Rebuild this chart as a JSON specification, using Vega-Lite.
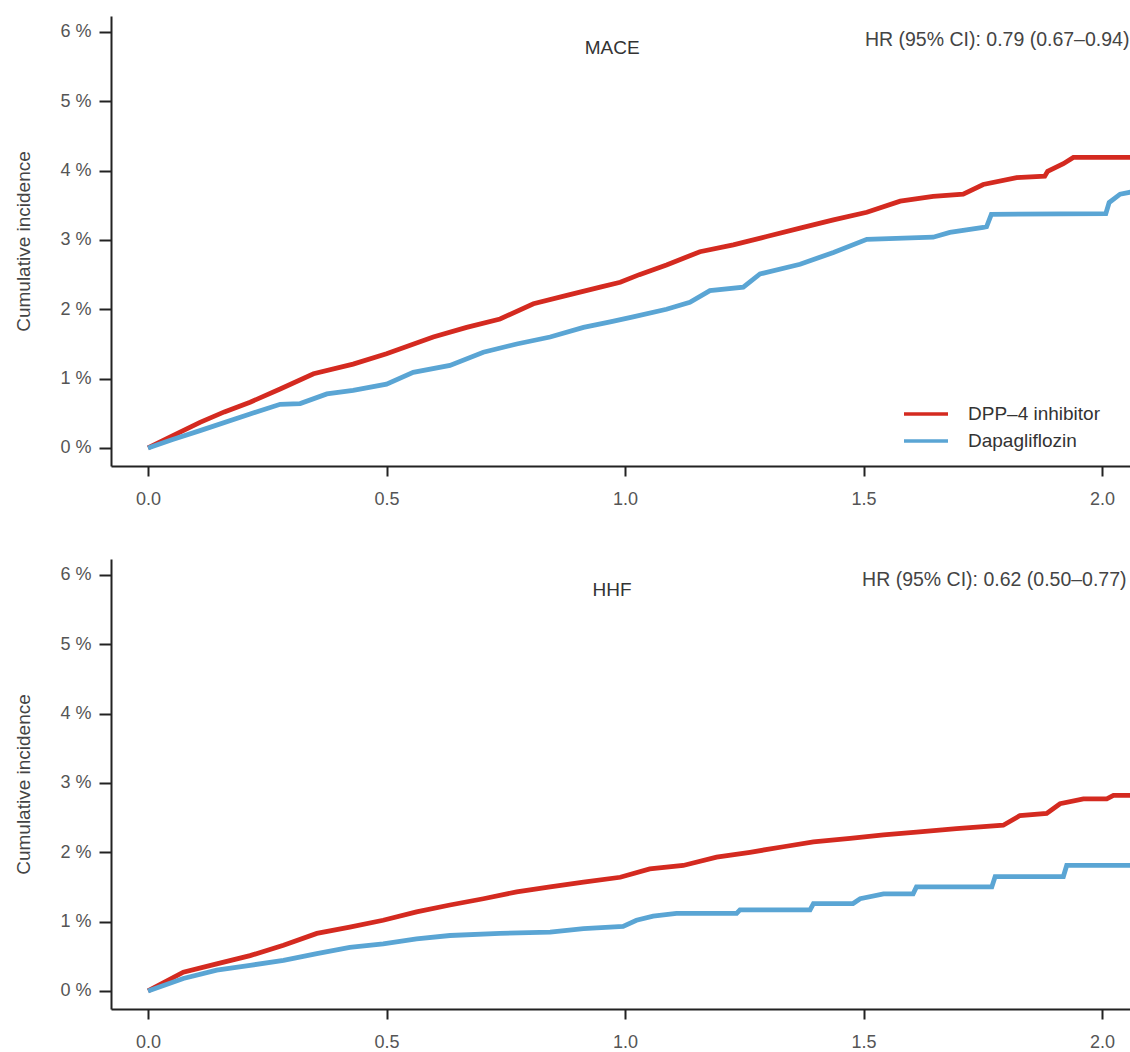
{
  "$schema": "https://vega.github.io/schema/vega-lite/v6.json",
  "background": "white",
  "padding": {"left": 14, "top": 16, "right": 0, "bottom": 0},
  "bounds": "flush",
  "spacing": 93,
  "config": {
    "view": {"stroke": null},
    "font": "Liberation Sans",
    "axis": {"grid": false, "domainColor": "#222", "domainWidth": 2, "tickColor": "#222", "tickWidth": 2, "tickSize": 11, "labelFont": "Liberation Sans", "labelFontSize": 18, "labelColor": "#555", "titleFont": "Liberation Sans", "titleFontSize": 19, "titleFontWeight": "normal", "titleColor": "#444"},
    "text": {"font": "Liberation Sans", "fontSize": 19, "color": "#333"}
  },
  "datasets": {
    "mace": [
      {"t": 0, "ci": 0, "group": "DPP–4 inhibitor"},
      {"t": 0.05, "ci": 0.17, "group": "DPP–4 inhibitor"},
      {"t": 0.109, "ci": 0.37, "group": "DPP–4 inhibitor"},
      {"t": 0.16, "ci": 0.52, "group": "DPP–4 inhibitor"},
      {"t": 0.214, "ci": 0.66, "group": "DPP–4 inhibitor"},
      {"t": 0.277, "ci": 0.85, "group": "DPP–4 inhibitor"},
      {"t": 0.347, "ci": 1.07, "group": "DPP–4 inhibitor"},
      {"t": 0.43, "ci": 1.21, "group": "DPP–4 inhibitor"},
      {"t": 0.5, "ci": 1.36, "group": "DPP–4 inhibitor"},
      {"t": 0.598, "ci": 1.6, "group": "DPP–4 inhibitor"},
      {"t": 0.668, "ci": 1.74, "group": "DPP–4 inhibitor"},
      {"t": 0.738, "ci": 1.86, "group": "DPP–4 inhibitor"},
      {"t": 0.808, "ci": 2.08, "group": "DPP–4 inhibitor"},
      {"t": 0.878, "ci": 2.2, "group": "DPP–4 inhibitor"},
      {"t": 0.948, "ci": 2.32, "group": "DPP–4 inhibitor"},
      {"t": 0.99, "ci": 2.39, "group": "DPP–4 inhibitor"},
      {"t": 1.03, "ci": 2.5, "group": "DPP–4 inhibitor"},
      {"t": 1.087, "ci": 2.64, "group": "DPP–4 inhibitor"},
      {"t": 1.157, "ci": 2.83, "group": "DPP–4 inhibitor"},
      {"t": 1.227, "ci": 2.93, "group": "DPP–4 inhibitor"},
      {"t": 1.297, "ci": 3.05, "group": "DPP–4 inhibitor"},
      {"t": 1.367, "ci": 3.17, "group": "DPP–4 inhibitor"},
      {"t": 1.437, "ci": 3.29, "group": "DPP–4 inhibitor"},
      {"t": 1.507, "ci": 3.4, "group": "DPP–4 inhibitor"},
      {"t": 1.577, "ci": 3.56, "group": "DPP–4 inhibitor"},
      {"t": 1.646, "ci": 3.63, "group": "DPP–4 inhibitor"},
      {"t": 1.709, "ci": 3.66, "group": "DPP–4 inhibitor"},
      {"t": 1.751, "ci": 3.8, "group": "DPP–4 inhibitor"},
      {"t": 1.821, "ci": 3.9, "group": "DPP–4 inhibitor"},
      {"t": 1.88, "ci": 3.92, "group": "DPP–4 inhibitor"},
      {"t": 1.886, "ci": 3.99, "group": "DPP–4 inhibitor"},
      {"t": 1.919, "ci": 4.1, "group": "DPP–4 inhibitor"},
      {"t": 1.94, "ci": 4.19, "group": "DPP–4 inhibitor"},
      {"t": 2.06, "ci": 4.19, "group": "DPP–4 inhibitor"},
      {"t": 0, "ci": 0, "group": "Dapagliflozin"},
      {"t": 0.05, "ci": 0.12, "group": "Dapagliflozin"},
      {"t": 0.109, "ci": 0.25, "group": "Dapagliflozin"},
      {"t": 0.214, "ci": 0.49, "group": "Dapagliflozin"},
      {"t": 0.277, "ci": 0.63, "group": "Dapagliflozin"},
      {"t": 0.319, "ci": 0.64, "group": "Dapagliflozin"},
      {"t": 0.375, "ci": 0.78, "group": "Dapagliflozin"},
      {"t": 0.43, "ci": 0.83, "group": "Dapagliflozin"},
      {"t": 0.5, "ci": 0.92, "group": "Dapagliflozin"},
      {"t": 0.556, "ci": 1.09, "group": "Dapagliflozin"},
      {"t": 0.633, "ci": 1.19, "group": "Dapagliflozin"},
      {"t": 0.703, "ci": 1.38, "group": "Dapagliflozin"},
      {"t": 0.773, "ci": 1.5, "group": "Dapagliflozin"},
      {"t": 0.843, "ci": 1.6, "group": "Dapagliflozin"},
      {"t": 0.913, "ci": 1.74, "group": "Dapagliflozin"},
      {"t": 0.969, "ci": 1.82, "group": "Dapagliflozin"},
      {"t": 1.017, "ci": 1.89, "group": "Dapagliflozin"},
      {"t": 1.087, "ci": 2.0, "group": "Dapagliflozin"},
      {"t": 1.136, "ci": 2.1, "group": "Dapagliflozin"},
      {"t": 1.178, "ci": 2.27, "group": "Dapagliflozin"},
      {"t": 1.248, "ci": 2.32, "group": "Dapagliflozin"},
      {"t": 1.283, "ci": 2.51, "group": "Dapagliflozin"},
      {"t": 1.367, "ci": 2.65, "group": "Dapagliflozin"},
      {"t": 1.437, "ci": 2.82, "group": "Dapagliflozin"},
      {"t": 1.507, "ci": 3.01, "group": "Dapagliflozin"},
      {"t": 1.646, "ci": 3.04, "group": "Dapagliflozin"},
      {"t": 1.681, "ci": 3.11, "group": "Dapagliflozin"},
      {"t": 1.751, "ci": 3.18, "group": "Dapagliflozin"},
      {"t": 1.758, "ci": 3.19, "group": "Dapagliflozin"},
      {"t": 1.768, "ci": 3.37, "group": "Dapagliflozin"},
      {"t": 2.008, "ci": 3.38, "group": "Dapagliflozin"},
      {"t": 2.015, "ci": 3.54, "group": "Dapagliflozin"},
      {"t": 2.038, "ci": 3.66, "group": "Dapagliflozin"},
      {"t": 2.06, "ci": 3.69, "group": "Dapagliflozin"}
    ],
    "hhf": [
      {"t": 0, "ci": 0, "group": "DPP–4 inhibitor"},
      {"t": 0.074, "ci": 0.27, "group": "DPP–4 inhibitor"},
      {"t": 0.144, "ci": 0.39, "group": "DPP–4 inhibitor"},
      {"t": 0.214, "ci": 0.51, "group": "DPP–4 inhibitor"},
      {"t": 0.284, "ci": 0.66, "group": "DPP–4 inhibitor"},
      {"t": 0.354, "ci": 0.83, "group": "DPP–4 inhibitor"},
      {"t": 0.423, "ci": 0.92, "group": "DPP–4 inhibitor"},
      {"t": 0.493, "ci": 1.02, "group": "DPP–4 inhibitor"},
      {"t": 0.563, "ci": 1.14, "group": "DPP–4 inhibitor"},
      {"t": 0.633, "ci": 1.24, "group": "DPP–4 inhibitor"},
      {"t": 0.703, "ci": 1.33, "group": "DPP–4 inhibitor"},
      {"t": 0.773, "ci": 1.43, "group": "DPP–4 inhibitor"},
      {"t": 0.843, "ci": 1.5, "group": "DPP–4 inhibitor"},
      {"t": 0.913, "ci": 1.57, "group": "DPP–4 inhibitor"},
      {"t": 0.99, "ci": 1.64, "group": "DPP–4 inhibitor"},
      {"t": 1.052, "ci": 1.76, "group": "DPP–4 inhibitor"},
      {"t": 1.122, "ci": 1.81, "group": "DPP–4 inhibitor"},
      {"t": 1.192, "ci": 1.93, "group": "DPP–4 inhibitor"},
      {"t": 1.262, "ci": 2.0, "group": "DPP–4 inhibitor"},
      {"t": 1.332, "ci": 2.08, "group": "DPP–4 inhibitor"},
      {"t": 1.395, "ci": 2.15, "group": "DPP–4 inhibitor"},
      {"t": 1.472, "ci": 2.2, "group": "DPP–4 inhibitor"},
      {"t": 1.542, "ci": 2.25, "group": "DPP–4 inhibitor"},
      {"t": 1.611, "ci": 2.29, "group": "DPP–4 inhibitor"},
      {"t": 1.695, "ci": 2.34, "group": "DPP–4 inhibitor"},
      {"t": 1.793, "ci": 2.39, "group": "DPP–4 inhibitor"},
      {"t": 1.828, "ci": 2.53, "group": "DPP–4 inhibitor"},
      {"t": 1.884, "ci": 2.56, "group": "DPP–4 inhibitor"},
      {"t": 1.912, "ci": 2.7, "group": "DPP–4 inhibitor"},
      {"t": 1.961, "ci": 2.77, "group": "DPP–4 inhibitor"},
      {"t": 2.01, "ci": 2.77, "group": "DPP–4 inhibitor"},
      {"t": 2.024, "ci": 2.82, "group": "DPP–4 inhibitor"},
      {"t": 2.06, "ci": 2.82, "group": "DPP–4 inhibitor"},
      {"t": 0, "ci": 0, "group": "Dapagliflozin"},
      {"t": 0.074, "ci": 0.18, "group": "Dapagliflozin"},
      {"t": 0.144, "ci": 0.3, "group": "Dapagliflozin"},
      {"t": 0.214, "ci": 0.37, "group": "Dapagliflozin"},
      {"t": 0.284, "ci": 0.44, "group": "Dapagliflozin"},
      {"t": 0.354, "ci": 0.54, "group": "Dapagliflozin"},
      {"t": 0.423, "ci": 0.63, "group": "Dapagliflozin"},
      {"t": 0.493, "ci": 0.68, "group": "Dapagliflozin"},
      {"t": 0.563, "ci": 0.75, "group": "Dapagliflozin"},
      {"t": 0.633, "ci": 0.8, "group": "Dapagliflozin"},
      {"t": 0.738, "ci": 0.83, "group": "Dapagliflozin"},
      {"t": 0.843, "ci": 0.85, "group": "Dapagliflozin"},
      {"t": 0.913, "ci": 0.9, "group": "Dapagliflozin"},
      {"t": 0.996, "ci": 0.93, "group": "Dapagliflozin"},
      {"t": 1.024, "ci": 1.02, "group": "Dapagliflozin"},
      {"t": 1.059, "ci": 1.08, "group": "Dapagliflozin"},
      {"t": 1.108, "ci": 1.12, "group": "Dapagliflozin"},
      {"t": 1.234, "ci": 1.12, "group": "Dapagliflozin"},
      {"t": 1.241, "ci": 1.17, "group": "Dapagliflozin"},
      {"t": 1.388, "ci": 1.17, "group": "Dapagliflozin"},
      {"t": 1.395, "ci": 1.26, "group": "Dapagliflozin"},
      {"t": 1.478, "ci": 1.26, "group": "Dapagliflozin"},
      {"t": 1.493, "ci": 1.33, "group": "Dapagliflozin"},
      {"t": 1.542, "ci": 1.4, "group": "Dapagliflozin"},
      {"t": 1.604, "ci": 1.4, "group": "Dapagliflozin"},
      {"t": 1.611, "ci": 1.5, "group": "Dapagliflozin"},
      {"t": 1.769, "ci": 1.5, "group": "Dapagliflozin"},
      {"t": 1.776, "ci": 1.65, "group": "Dapagliflozin"},
      {"t": 1.919, "ci": 1.65, "group": "Dapagliflozin"},
      {"t": 1.926, "ci": 1.81, "group": "Dapagliflozin"},
      {"t": 2.06, "ci": 1.81, "group": "Dapagliflozin"}
    ],
    "labels_mace": [
      {"t": 0.973, "ci": 5.77, "txt": "MACE", "kind": "title"},
      {"t": 1.503, "ci": 5.88, "txt": "HR (95% CI): 0.79 (0.67–0.94)", "kind": "hr"}
    ],
    "labels_hhf": [
      {"t": 0.973, "ci": 5.79, "txt": "HHF", "kind": "title"},
      {"t": 1.497, "ci": 5.92, "txt": "HR (95% CI): 0.62 (0.50–0.77)", "kind": "hr"}
    ]
  },
  "resolve": {"legend": {"color": "independent"}},
  "vconcat": [
    {
      "width": 1019,
      "height": 450,
      "layer": [
        {
          "data": {"name": "mace"},
          "mark": {"type": "line", "strokeWidth": 4.8, "clip": true},
          "encoding": {
            "x": {"field": "t", "type": "quantitative", "scale": {"domain": [-0.0776, 2.0587], "nice": false, "zero": false}, "axis": {"values": [0, 0.5, 1, 1.5, 2], "format": ".1f", "title": null, "labelPadding": 14, "tickSize": 10}},
            "y": {"field": "ci", "type": "quantitative", "scale": {"domain": [-0.26, 6.23], "nice": false, "zero": false}, "axis": {"values": [0, 1, 2, 3, 4, 5, 6], "labelExpr": "datum.value + ' %'", "title": "Cumulative incidence", "titlePadding": 26, "labelPadding": 8, "tickSize": 12}},
            "color": {"field": "group", "type": "nominal", "scale": {"domain": ["DPP–4 inhibitor", "Dapagliflozin"], "range": ["#D42A20", "#5AA5D4"]},
              "legend": {"orient": "none", "legendX": 802, "legendY": 385, "title": null, "symbolType": "M-2,0H2", "symbolSize": 484, "symbolStrokeWidth": 3.5, "labelFont": "Liberation Sans", "labelFontSize": 19, "labelColor": "#333", "labelOffset": 29, "rowPadding": 4, "padding": 0}}
          }
        },
        {
          "mark": {"type": "rule", "color": "#222", "strokeWidth": 2},
          "encoding": {"y": {"datum": 6.23}}
        },
        {
          "data": {"name": "labels_mace"},
          "transform": [{"filter": "datum.kind === 'title'"}],
          "mark": {"type": "text", "baseline": "middle", "align": "center", "clip": true},
          "encoding": {
            "x": {"field": "t", "type": "quantitative"},
            "y": {"field": "ci", "type": "quantitative"},
            "text": {"field": "txt"}
          }
        },
        {
          "data": {"name": "labels_mace"},
          "transform": [{"filter": "datum.kind === 'hr'"}],
          "mark": {"type": "text", "baseline": "middle", "align": "left", "fontSize": 19.5, "color": "#444", "clip": true},
          "encoding": {
            "x": {"field": "t", "type": "quantitative"},
            "y": {"field": "ci", "type": "quantitative"},
            "text": {"field": "txt"}
          }
        }
      ]
    },
    {
      "width": 1019,
      "height": 450,
      "layer": [
        {
          "data": {"name": "hhf"},
          "mark": {"type": "line", "strokeWidth": 4.8, "clip": true},
          "encoding": {
            "x": {"field": "t", "type": "quantitative", "scale": {"domain": [-0.0776, 2.0587], "nice": false, "zero": false}, "axis": {"values": [0, 0.5, 1, 1.5, 2], "format": ".1f", "title": null, "labelPadding": 14, "tickSize": 10}},
            "y": {"field": "ci", "type": "quantitative", "scale": {"domain": [-0.26, 6.23], "nice": false, "zero": false}, "axis": {"values": [0, 1, 2, 3, 4, 5, 6], "labelExpr": "datum.value + ' %'", "title": "Cumulative incidence", "titlePadding": 26, "labelPadding": 8, "tickSize": 12}},
            "color": {"field": "group", "type": "nominal", "scale": {"domain": ["DPP–4 inhibitor", "Dapagliflozin"], "range": ["#D42A20", "#5AA5D4"]}, "legend": null}
          }
        },
        {
          "mark": {"type": "rule", "color": "#222", "strokeWidth": 2},
          "encoding": {"y": {"datum": 6.23}}
        },
        {
          "data": {"name": "labels_hhf"},
          "transform": [{"filter": "datum.kind === 'title'"}],
          "mark": {"type": "text", "baseline": "middle", "align": "center", "clip": true},
          "encoding": {
            "x": {"field": "t", "type": "quantitative"},
            "y": {"field": "ci", "type": "quantitative"},
            "text": {"field": "txt"}
          }
        },
        {
          "data": {"name": "labels_hhf"},
          "transform": [{"filter": "datum.kind === 'hr'"}],
          "mark": {"type": "text", "baseline": "middle", "align": "left", "fontSize": 19.5, "color": "#444", "clip": true},
          "encoding": {
            "x": {"field": "t", "type": "quantitative"},
            "y": {"field": "ci", "type": "quantitative"},
            "text": {"field": "txt"}
          }
        }
      ]
    }
  ]
}
